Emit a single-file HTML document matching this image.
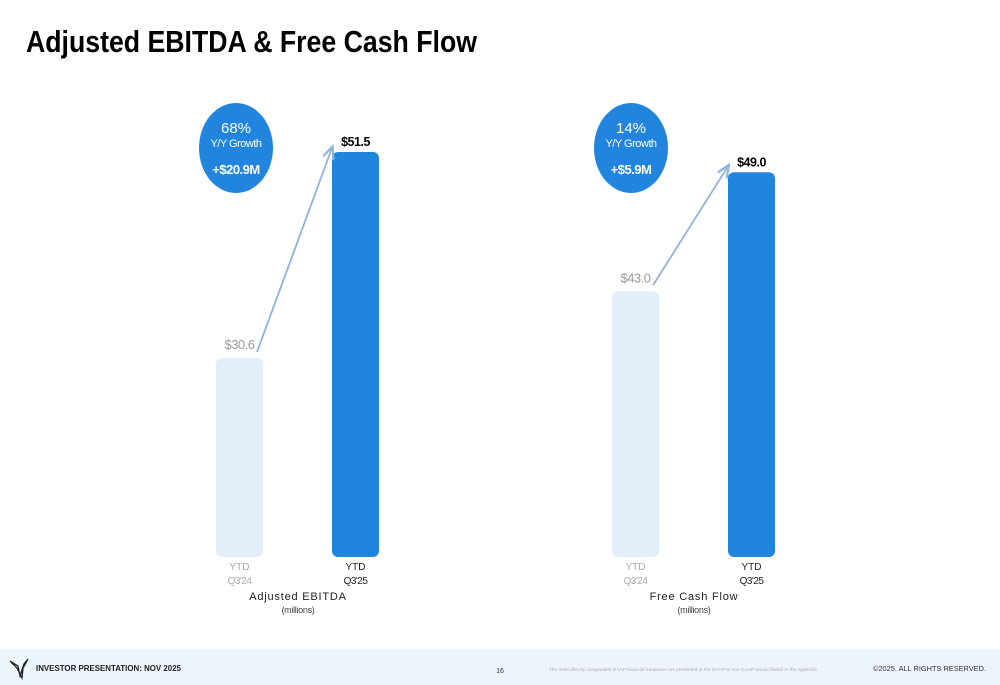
<!DOCTYPE html>
<html><head><meta charset="utf-8"><style>
html,body{margin:0;padding:0;background:#fff;width:1000px;height:685px;overflow:hidden;font-family:"Liberation Sans",sans-serif}
</style></head><body>
<svg width="1000" height="685" viewBox="0 0 1000 685">
<text x="26" y="52" font-size="31" font-weight="bold" fill="#000" textLength="451" lengthAdjust="spacingAndGlyphs">Adjusted EBITDA &amp; Free Cash Flow</text>
<g id="charts"></g>
<rect x="0" y="649" width="1000" height="36" fill="#eef4fc"/>
<path d="M10 661 L18 666 L20 676 L24 664 L28 659 L23 668 L22 678 L17 668 Z" fill="none" stroke="#222" stroke-width="1.3"/>
<text x="36" y="671" font-size="8" font-weight="bold" fill="#222" textLength="145" lengthAdjust="spacingAndGlyphs">INVESTOR PRESENTATION: NOV 2025</text>
<text x="500" y="673" font-size="7" text-anchor="middle" fill="#333">16</text>
<text x="549" y="671" font-size="4.5" fill="#aaa" textLength="268" lengthAdjust="spacingAndGlyphs">The most directly comparable GAAP financial measures are presented in the GAAP to non-GAAP reconciliation in the Appendix</text>
<text x="873" y="671" font-size="7.5" fill="#333" textLength="113" lengthAdjust="spacingAndGlyphs">©2025. ALL RIGHTS RESERVED.</text>
</svg>
<script>
const chartTitles=["Adjusted EBITDA","Free Cash Flow"];
const periods=["Q3'24","Q3'25"];
const valuesPrior=[30.6,43.0];
const valuesCurrent=[51.5,49.0];
const growthPct=["68%","14%"];
const growthAbs=["+$20.9M","+$5.9M"];
const domainMin=[10.4,29.6];
const NS="http://www.w3.org/2000/svg";
const g=document.getElementById('charts');
function mk(t,a,txt){const e=document.createElementNS(NS,t);for(const k in a)e.setAttribute(k,a[k]);if(txt!==undefined)e.textContent=txt;g.appendChild(e);return e;}
const base=557;
mk('defs',{}).innerHTML='<marker id="ah" markerWidth="8" markerHeight="8" refX="6" refY="4" orient="auto"><path d="M0,1 L7,4 L0,7" fill="none" stroke="#8fb3e0" stroke-width="1.2"/></marker>';
const kArr=[405/(51.5-10.4),19.83];
for(let i=0;i<2;i++){
  const off=i*396;
  const y=v=>base-kArr[i]*(v-domainMin[i]);
  const vals=[valuesPrior[i],valuesCurrent[i]];
  const xs=[216+off,332+off];
  for(let j=0;j<2;j++){
    const top=y(vals[j]);
    let r=mk('rect',{x:xs[j],y:top,width:47,height:base-top,rx:6,fill:j==0?'#e3eefb':'#2185de'});
    
    
    let t=mk('text',{x:xs[j]+23.5,y:top-(j==0?9:6),'font-size':j==0?13:12.5,'text-anchor':'middle',fill:j==0?'#999':'#000','font-weight':j==0?'normal':'bold','letter-spacing':'-0.5'},'$'+vals[j].toFixed(1));
    
    
    let a=mk('text',{x:xs[j]+23.5,y:570,'font-size':10,'text-anchor':'middle',fill:j==0?'#aaa':'#222'},'YTD');
    
    
    let b=mk('text',{x:xs[j]+23.5,y:584,'font-size':10,'text-anchor':'middle',fill:j==0?'#aaa':'#222','letter-spacing':'-0.5'},periods[j]);
    
    
  }
  let ar=mk('line',{x1:xs[0]+41,y1:y(vals[0])-6,x2:xs[1],y2:y(vals[1])+(i==0?-4:-6),stroke:'#8fb3e0','stroke-width':1.8,'marker-end':'url(#ah)'});
  
  
  const cx=236+off-(i?1:0);
  let c=mk('ellipse',{cx:cx,cy:148,rx:37,ry:45,fill:'#2185de'});
  
  
  let t1=mk('text',{x:cx,y:133,'font-size':15,'text-anchor':'middle',fill:'#fff'},growthPct[i]);
  
  
  let t2=mk('text',{x:cx,y:147,'font-size':11,'text-anchor':'middle',fill:'#fff','letter-spacing':'-0.5'},'Y/Y Growth');
  
  
  let t3=mk('text',{x:cx,y:174,'font-size':13,'font-weight':'bold','text-anchor':'middle',fill:'#fff','letter-spacing':'-0.5'},growthAbs[i]);
  
  
  let ti=mk('text',{x:298+off,y:600,'font-size':11,'text-anchor':'middle',fill:'#222','letter-spacing':'0.8'},chartTitles[i]);
  
  
  let mi=mk('text',{x:298+off,y:613,'font-size':9,'text-anchor':'middle',fill:'#444','letter-spacing':'-0.3'},'(millions)');
  
  
}
</script>
</body></html>
